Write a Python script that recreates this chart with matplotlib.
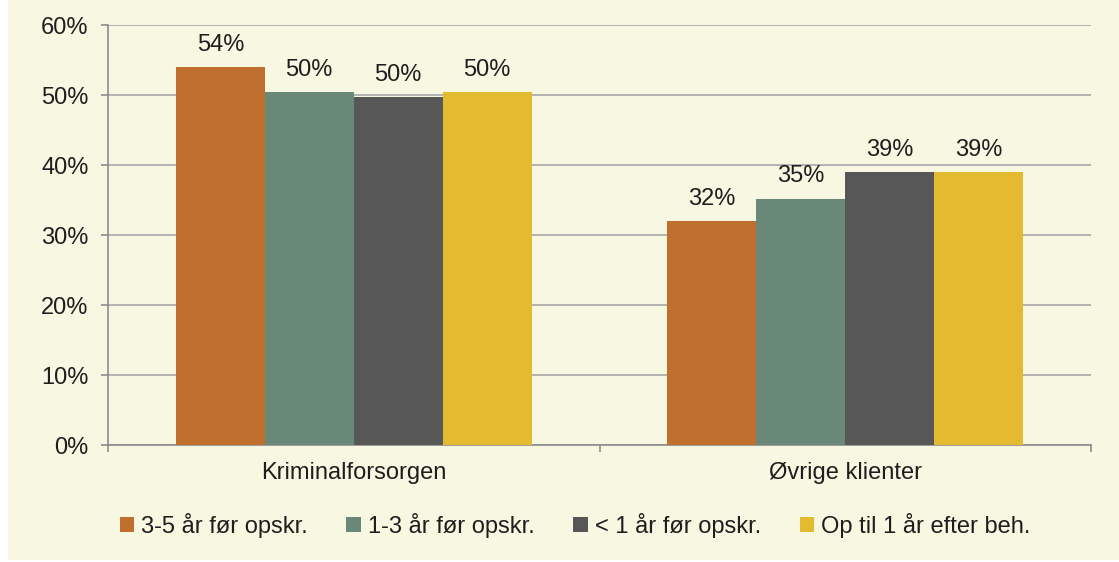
import matplotlib
matplotlib.use("Agg")
import matplotlib.pyplot as plt
import numpy as np
from matplotlib.patches import Rectangle

plt.rcParams['font.family'] = ['Liberation Sans', 'DejaVu Sans']

categories = ["Kriminalforsorgen", "Øvrige klienter"]
series_names = ["3-5 år før opskr.", "1-3 år før opskr.", "< 1 år før opskr.", "Op til 1 år efter beh."]
values = [
    [54.0, 32.0],
    [50.4, 35.2],
    [49.7, 39.0],
    [50.4, 39.0],
]
colors = ["#C06F2E", "#6A8878", "#575757", "#E3BA30"]
yticks = [0, 10, 20, 30, 40, 50, 60]

W, H = 1119, 562
FS = 17
bg = "#F8F7E1"
fig = plt.figure(figsize=(W / 100, H / 100), dpi=100)
fig.patch.set_facecolor(bg)
fig.patches.append(Rectangle((0, 0), 8 / W, 1, transform=fig.transFigure,
                             facecolor="white", edgecolor="none"))
fig.patches.append(Rectangle((0, 0), 1, 2 / H, transform=fig.transFigure,
                             facecolor="white", edgecolor="none"))

ax = fig.add_axes([108 / W, 1 - 445 / H, (1091 - 108) / W, (445 - 25) / H])
ax.set_facecolor(bg)

n = len(series_names)
bw = 0.181
x = np.arange(len(categories))
for i, (name, vals, c) in enumerate(zip(series_names, values, colors)):
    pos = x + (i - (n - 1) / 2) * bw
    bars = ax.bar(pos, vals, width=bw, color=c, label=name, zorder=3)
    for b, v in zip(bars, vals):
        ax.text(b.get_x() + b.get_width() / 2, v + 1.6, f"{round(v):d}%",
                ha="center", va="bottom", fontsize=FS, color="#1E1E1E")

ax.set_xlim(-0.5, len(categories) - 0.5)
ax.set_ylim(0, 60)
ax.set_yticks(yticks)
ax.set_yticklabels([f"{t}%" for t in yticks], fontsize=FS, color="#1E1E1E")
ax.yaxis.grid(True, color="#A6A6A6", linewidth=1.2, zorder=0)
ax.set_axisbelow(True)

ax.set_xticks(np.arange(len(categories) + 1) - 0.5, minor=False)
ax.set_xticklabels([])
ax.set_xticks(x, minor=True)
ax.set_xticklabels(categories, minor=True, fontsize=FS, color="#1E1E1E")
ax.tick_params(axis="x", which="major", length=5, color="#8C8C8C", width=1.2)
ax.tick_params(axis="x", which="minor", length=0, pad=12)
ax.tick_params(axis="y", length=5, color="#8C8C8C", width=1.2, pad=9)

for s in ["top", "right"]:
    ax.spines[s].set_visible(False)
ax.spines["left"].set_color("#8C8C8C")
ax.spines["bottom"].set_color("#8C8C8C")
ax.spines["left"].set_linewidth(1.2)
ax.spines["bottom"].set_linewidth(1.2)

handles, labels = ax.get_legend_handles_labels()
leg = fig.legend(handles, labels, loc="center", bbox_to_anchor=(575 / W, 1 - 525 / H), ncol=4,
                 frameon=False, fontsize=FS, handlelength=0.6, handleheight=0.6,
                 handletextpad=0.3, columnspacing=1.65)
for t in leg.get_texts():
    t.set_color("#1E1E1E")

fig.savefig("out.png", dpi=100, facecolor=fig.get_facecolor())
